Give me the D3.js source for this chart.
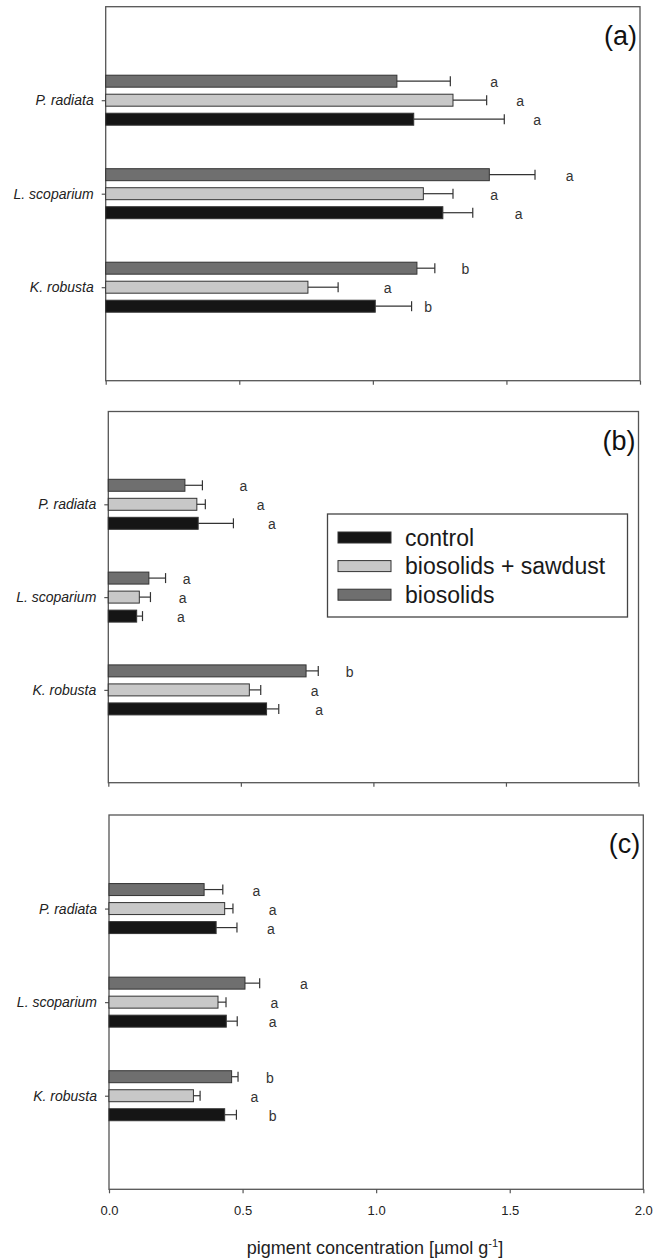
<!DOCTYPE html>
<html>
<head>
<meta charset="utf-8">
<script src="https://cdn.jsdelivr.net/npm/d3@7"></script>
<style>
  body { margin: 0; background: #fff; }
  svg { display: block; font-family: "Liberation Sans", Arial, sans-serif; }
</style>
</head>
<body>
<svg id="chart" width="655" height="1258"></svg>
<script>
// ---- data ----
var species = ["P. radiata", "L. scoparium", "K. robusta"];
var treatments = ["biosolids", "biosolids + sawdust", "control"];   // top to bottom inside a group
var legendOrder = ["control", "biosolids + sawdust", "biosolids"];
var panelLabels = ["(a)", "(b)", "(c)"];
var xTicks = [0, 0.5, 1.0, 1.5, 2.0];

// panel (a)
var aBiosolids = [1.09, 1.436, 1.165],  aBiosolidsSe = [0.20, 0.171, 0.067];
var aSawdust   = [1.30, 1.189, 0.757],  aSawdustSe   = [0.126, 0.111, 0.113];
var aControl   = [1.153, 1.262, 1.009], aControlSe   = [0.339, 0.112, 0.136];
var aLetters   = { "biosolids": ["a", "a", "b"], "biosolids + sawdust": ["a", "a", "a"], "control": ["a", "a", "b"] };
var aLetterAt  = { "biosolids": [1.454, 1.737, 1.346], "biosolids + sawdust": [1.551, 1.454, 1.055], "control": [1.615, 1.546, 1.207] };

// panel (b)
var bBiosolids = [0.289, 0.153, 0.746], bBiosolidsSe = [0.066, 0.063, 0.046];
var bSawdust   = [0.334, 0.117, 0.532], bSawdustSe   = [0.032, 0.042, 0.043];
var bControl   = [0.339, 0.107, 0.597], bControlSe   = [0.133, 0.022, 0.046];
var bLetters   = { "biosolids": ["a", "a", "b"], "biosolids + sawdust": ["a", "a", "a"], "control": ["a", "a", "a"] };
var bLetterAt  = { "biosolids": [0.510, 0.296, 0.910], "biosolids + sawdust": [0.575, 0.280, 0.778], "control": [0.617, 0.274, 0.795] };

// panel (c)
var cBiosolids = [0.356, 0.509, 0.459], cBiosolidsSe = [0.070, 0.055, 0.024];
var cSawdust   = [0.433, 0.408, 0.316], cSawdustSe   = [0.031, 0.030, 0.025];
var cControl   = [0.401, 0.439, 0.433], cControlSe   = [0.078, 0.041, 0.044];
var cLetters   = { "biosolids": ["a", "a", "b"], "biosolids + sawdust": ["a", "a", "a"], "control": ["a", "a", "b"] };
var cLetterAt  = { "biosolids": [0.552, 0.730, 0.602], "biosolids + sawdust": [0.613, 0.619, 0.544], "control": [0.606, 0.613, 0.613] };

var color = d3.scaleOrdinal()
    .domain(["control", "biosolids + sawdust", "biosolids"])
    .range(["#151515", "#c8c8c8", "#6f6f6f"]);

// build a table per panel from the arrays above
function rows(bio, bioSe, saw, sawSe, ctl, ctlSe, letters, letterAt) {
  var means = { "biosolids": bio, "biosolids + sawdust": saw, "control": ctl };
  var ses = { "biosolids": bioSe, "biosolids + sawdust": sawSe, "control": ctlSe };
  var out = [];
  species.forEach(function(s, i) {
    treatments.forEach(function(t) {
      out.push({ species: s, idx: i, treatment: t, mean: means[t][i], se: ses[t][i],
                 letter: letters[t][i], letterAt: letterAt[t][i] });
    });
  });
  return out;
}

var panels = [
  { label: panelLabels[0], top: 6.7, bottom: 380.7, left: 105.7, right: 640,
    data: rows(aBiosolids, aBiosolidsSe, aSawdust, aSawdustSe, aControl, aControlSe, aLetters, aLetterAt) },
  { label: panelLabels[1], top: 411.5, bottom: 782.7, left: 108.3, right: 638.5, legend: true,
    data: rows(bBiosolids, bBiosolidsSe, bSawdust, bSawdustSe, bControl, bControlSe, bLetters, bLetterAt) },
  { label: panelLabels[2], top: 815, bottom: 1189.3, left: 109, right: 643.3, tickLabels: true,
    data: rows(cBiosolids, cBiosolidsSe, cSawdust, cSawdustSe, cControl, cControlSe, cLetters, cLetterAt) }
];

var svg = d3.select("#chart");
var textColor = "#222";
var frameColor = "#555";

var inner = d3.scaleBand()
    .domain(treatments)
    .range([-25, 25])
    .paddingInner(0.37);

panels.forEach(function(p) {
  var x = d3.scaleLinear().domain([0, 2]).range([p.left, p.right]);
  var y = d3.scaleLinear().domain([0, 4]).range([p.top, p.bottom]);
  var g = svg.append("g");

  // frame
  g.append("rect")
      .attr("x", p.left).attr("y", p.top)
      .attr("width", p.right - p.left).attr("height", p.bottom - p.top)
      .attr("fill", "none")
      .attr("stroke", frameColor)
      .attr("stroke-width", 1.3);

  // x axis
  var xAxis = d3.axisBottom(x).tickValues(xTicks).tickSize(4).tickPadding(12)
      .tickFormat(p.tickLabels ? d3.format(".1f") : function() { return ""; });
  var xg = g.append("g")
      .attr("transform", "translate(0," + p.bottom + ")")
      .call(xAxis);
  xg.select(".domain").remove();
  xg.selectAll("line").attr("stroke", frameColor).attr("stroke-width", 1.2);
  xg.selectAll("text").attr("fill", textColor).style("font-size", "13px")
      .style("font-family", "'Liberation Sans', Arial, sans-serif");

  // y axis
  var yAxis = d3.axisLeft(y).tickValues([1, 2, 3]).tickSize(4).tickPadding(8)
      .tickFormat(function(d) { return species[d - 1]; });
  var yg = g.append("g")
      .attr("transform", "translate(" + p.left + ",0)")
      .call(yAxis);
  yg.select(".domain").remove();
  yg.selectAll("line").attr("stroke", frameColor).attr("stroke-width", 1.2);
  yg.selectAll("text").attr("fill", textColor).style("font-size", "14px")
      .style("font-style", "italic")
      .style("font-family", "'Liberation Sans', Arial, sans-serif");

  function cy(d) { return y(d.idx + 1) + inner(d.treatment) + inner.bandwidth() / 2; }

  // bars
  g.selectAll(".bar")
      .data(p.data)
    .enter().append("rect")
      .attr("class", "bar")
      .attr("x", x(0))
      .attr("y", function(d) { return y(d.idx + 1) + inner(d.treatment); })
      .attr("width", function(d) { return x(d.mean) - x(0); })
      .attr("height", inner.bandwidth())
      .attr("fill", function(d) { return color(d.treatment); })
      .attr("stroke", "#333")
      .attr("stroke-width", 1);

  // error bars
  g.selectAll(".err")
      .data(p.data)
    .enter().append("line")
      .attr("class", "err")
      .attr("x1", function(d) { return x(d.mean); })
      .attr("x2", function(d) { return x(d.mean + d.se); })
      .attr("y1", cy).attr("y2", cy)
      .attr("stroke", "#333").attr("stroke-width", 1.2);

  g.selectAll(".cap")
      .data(p.data)
    .enter().append("line")
      .attr("class", "cap")
      .attr("x1", function(d) { return x(d.mean + d.se); })
      .attr("x2", function(d) { return x(d.mean + d.se); })
      .attr("y1", function(d) { return cy(d) - 5; })
      .attr("y2", function(d) { return cy(d) + 5; })
      .attr("stroke", "#333").attr("stroke-width", 1.2);

  // significance letters
  g.selectAll(".letter")
      .data(p.data)
    .enter().append("text")
      .attr("class", "letter")
      .attr("x", function(d) { return x(d.letterAt); })
      .attr("y", function(d) { return cy(d) + 6; })
      .attr("text-anchor", "middle")
      .attr("fill", "#333")
      .style("font-size", "14px")
      .text(function(d) { return d.letter; });

  // panel label
  g.append("text")
      .attr("x", p.right - 3)
      .attr("y", p.top + 38)
      .attr("text-anchor", "end")
      .attr("fill", "#111")
      .style("font-size", "27px")
      .text(p.label);

  // legend
  if (p.legend) {
    var lg = g.append("g");
    lg.append("rect")
        .attr("x", 327.5).attr("y", 514)
        .attr("width", 300).attr("height", 103)
        .attr("fill", "#fff")
        .attr("stroke", "#444").attr("stroke-width", 1.3);
    var item = lg.selectAll(".item")
        .data(legendOrder)
      .enter().append("g")
        .attr("class", "item")
        .attr("transform", function(d, i) { return "translate(338," + (537.5 + i * 28.6) + ")"; });
    item.append("rect")
        .attr("x", 0).attr("y", -5.5)
        .attr("width", 53).attr("height", 11)
        .attr("fill", function(d) { return color(d); })
        .attr("stroke", "#333").attr("stroke-width", 1);
    item.append("text")
        .attr("x", 67).attr("y", 8)
        .attr("fill", "#1a1a1a")
        .style("font-size", "23px")
        .text(function(d) { return d; });
  }
});

// x axis title
var title = svg.append("text")
    .attr("x", 375)
    .attr("y", 1254)
    .attr("text-anchor", "middle")
    .attr("fill", textColor)
    .style("font-size", "18px");
title.append("tspan").text("pigment concentration [\u00b5mol g");
title.append("tspan").attr("dy", -7).style("font-size", "11px").text("-1");
title.append("tspan").attr("dy", 7).text("]");
</script>
</body>
</html>
